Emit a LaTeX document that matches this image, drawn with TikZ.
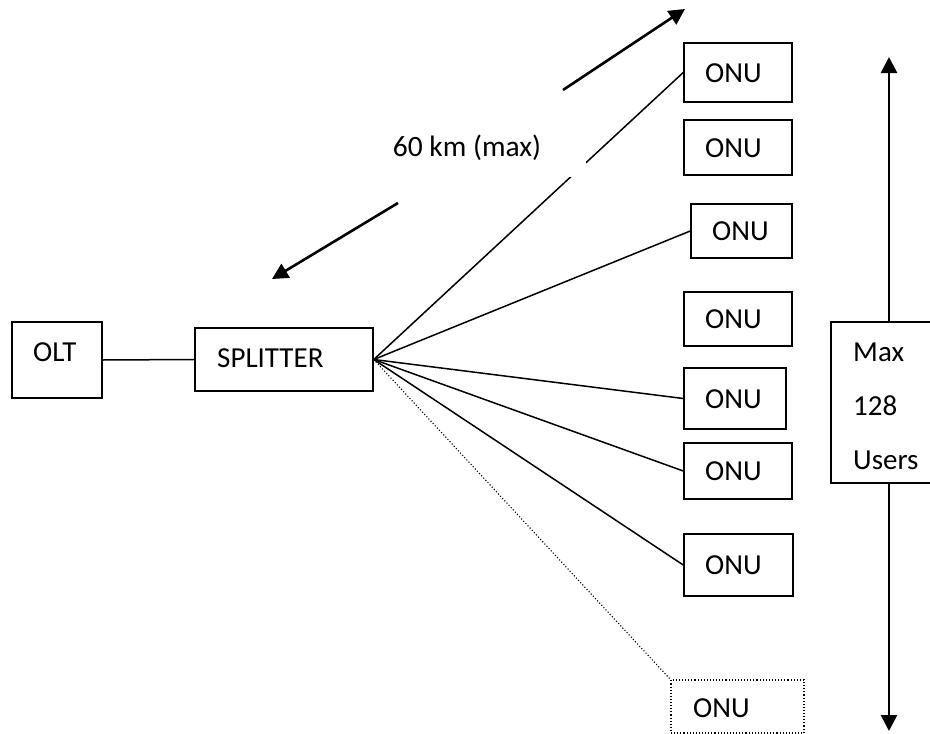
\documentclass[tikz,border=0pt]{standalone}
\usepackage{fontspec}
\setmainfont{Carlito}
\usetikzlibrary{arrows.meta}
\begin{document}
\begin{tikzpicture}[x=1pt,y=-1pt,
  box/.style={draw, line width=1.5pt, inner sep=0pt},
  dotbox/.style={draw, line width=1.1pt, dotted, inner sep=0pt},
  lbl/.style={anchor=base west, inner sep=0pt, font=\fontsize{29}{35}\selectfont},
  link/.style={line width=1.5pt},
  dotlink/.style={line width=1.1pt, dotted},
  bigarrow/.style={line width=2.6pt, -{Triangle[length=16pt,width=16pt]}}]
\useasboundingbox (0,0) rectangle (930,734);

% equipment boxes
\node[box, minimum width=90pt,  minimum height=76pt] (olt)  at (57,360)    {};
\node[box, minimum width=178pt, minimum height=63pt] (spl)  at (284,359.5) {};
\node[box, minimum width=108pt, minimum height=59pt] (o1)   at (738,72.5)  {};
\node[box, minimum width=108pt, minimum height=55pt] (o2)   at (738,147.5) {};
\node[box, minimum width=101pt, minimum height=54pt] (o3)   at (741.5,231) {};
\node[box, minimum width=108pt, minimum height=54pt] (o4)   at (738,319)   {};
\node[box, minimum width=102pt, minimum height=61pt] (o5)   at (735,398.5) {};
\node[box, minimum width=108pt, minimum height=56pt] (o6)   at (738,471)   {};
\node[box, minimum width=109pt, minimum height=62pt] (o7)   at (738.5,565) {};
\node[dotbox, minimum width=133pt, minimum height=53pt] (o8) at (737.5,706.5) {};
\node[box, minimum width=116pt, minimum height=161pt] (maxbox) at (889,402.5) {};

% box texts
\node[lbl] (tolt) at (33,361)  {OLT};
\node[lbl] (tspl) at (217,367) {SPLITTER};
\node[lbl] (t1) at (705,82)    {ONU};
\node[lbl] (t2) at (705,157)   {ONU};
\node[lbl] (t3) at (712,240.5) {ONU};
\node[lbl] (t4) at (705,328.5) {ONU};
\node[lbl] (t5) at (705,408)   {ONU};
\node[lbl] (t6) at (705,480.5) {ONU};
\node[lbl] (t7) at (705,574.5) {ONU};
\node[lbl] (t8) at (693,717)   {ONU};
\node[lbl] (tmax)   at (853,361) {Max};
\node[lbl] (tcount) at (853,415) {128};
\node[lbl] (tusers) at (853,469) {Users};

% fibre links
\draw[link] (olt.east) -- (spl.west);
\draw[link] (spl.east) -- (o1.west);
\draw[link] (spl.east) -- (o3.west);
\draw[link] (spl.east) -- (o5.west);
\draw[link] (spl.east) -- (o6.west);
\draw[link] (spl.east) -- (o7.west);
\draw[dotlink] (spl.east) -- (o8.north west);

% distance label on a white patch
\node[fill=white, minimum width=238pt, minimum height=58pt, inner sep=0pt,
      font=\fontsize{29.5}{35}\selectfont] (dist) at (467,148) {60 km (max)};

% distance arrows
\coordinate (dtail) at (563,90);
\coordinate (dhead) at (685,9);
\coordinate (ltail) at (398,203);
\coordinate (lhead) at (272,279);
\draw[bigarrow] (dtail) -- (dhead);
\draw[bigarrow] (ltail) -- (lhead);

% user count arrows
\coordinate (utip) at (889,57);
\coordinate (btip) at (889,731);
\draw[bigarrow] (maxbox.north) -- (utip);
\draw[bigarrow] (maxbox.south) -- (btip);
\end{tikzpicture}
\end{document}
